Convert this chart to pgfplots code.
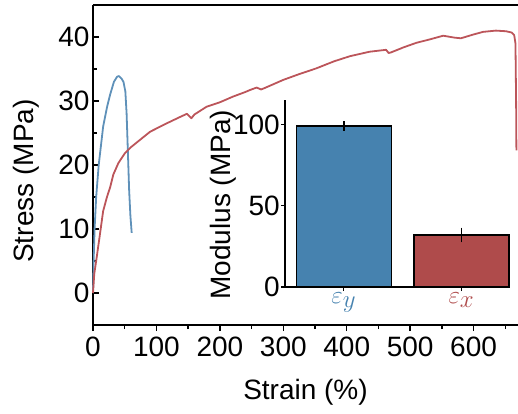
\documentclass[border=0pt]{standalone}
\usepackage{pgfplots}
\pgfplotsset{compat=1.18}
\usepackage{fontspec}
\setmainfont{Liberation Sans}
\definecolor{barblue}{RGB}{70,130,175}
\definecolor{barred}{RGB}{175,75,75}
\definecolor{lineblue}{RGB}{95,145,185}
\definecolor{linered}{RGB}{188,85,90}
\begin{document}
\begin{tikzpicture}
\path[use as bounding box] (-93pt,-88pt) rectangle (425pt,325pt);
\begin{axis}[
  scale only axis, width=425pt, height=320pt,
  at={(0pt,0pt)}, anchor=south west,
  xmin=0, xmax=670, ymin=-5, ymax=45,
  axis x line*=bottom, axis y line*=left,
  axis line style={-, line width=1.6pt, black},
  xtick={0,100,...,600}, ytick={0,10,...,40},
  minor xtick={50,150,...,650}, minor ytick={-5,5,15,25,35},
  xtick align=outside, ytick align=inside,
  major tick length=6pt, minor tick length=4pt,
  every tick/.style={black, line width=1.4pt},
  /pgf/number format/assume math mode=true,
  tick label style={font=\fontsize{28}{32}\selectfont},
  xticklabel style={yshift=-2pt},
  label style={font=\fontsize{28}{32}\selectfont, inner sep=0pt},
  xlabel={Strain (\%)}, ylabel={Stress (MPa)},
  xlabel style={at={(axis description cs:0.5,-0.17)}, anchor=north},
  ylabel style={at={(axis description cs:-0.125,0.45)}, anchor=south},
  clip=false,
]
\draw[line width=1.6pt] (rel axis cs:0,1) -- (rel axis cs:1.02,1);
\addplot[lineblue, line width=1.8pt, line join=round] coordinates {
(0,0) (1,5) (2.5,10) (5,15) (9,20) (16,26) (22,29) (27,31) (33,33) (38,33.8) (41,33.9) (45,33.5) (48,33) (51,31.5) (53,28) (55,22) (57,16) (59,12) (61,9.4)
};
\addplot[linered, line width=1.8pt, line join=round] coordinates {
(0,0) (2,3) (5,5) (10,8.5) (16,12.8) (22,15) (27,16.5) (32,18.5) (40,20.3) (50,21.8) (60,22.8) (75,24) (90,25.2) (116,26.5) (135,27.4) (148,28.0) (152,27.6) (155,27.3) (160,27.9) (179,29.1) (200,29.8) (221,30.7) (240,31.4) (247,31.7) (258,32.1) (265,31.8) (270,32.0) (300,33.3) (325,34.2) (352,35.1) (380,36.2) (405,37.0) (436,37.7) (462,38.0) (466,37.5) (470,37.6) (490,38.4) (510,39.1) (530,39.6) (552,40.2) (570,39.9) (580,39.8) (600,40.4) (615,40.8) (635,41.0) (651,40.9) (660,40.7) (664,40.3) (666,39) (667,30) (667.5,22.3)
};
\end{axis}
\begin{axis}[
  scale only axis, width=224pt, height=187pt,
  at={(192pt,38pt)}, anchor=south west,
  xmin=-0.5, xmax=1.405, ymin=0, ymax=115,
  axis x line*=bottom, axis y line*=left,
  axis line style={-, line width=1.6pt, black},
  xtick={0,1}, xticklabels={{\color{barblue}$\varepsilon_y$},{\color{barred}$\varepsilon_x$}},
  ytick={0,50,100},
  tick align=outside, major tick length=4pt,
  every tick/.style={black, line width=1.4pt},
  /pgf/number format/assume math mode=true,
  tick label style={font=\fontsize{28}{32}\selectfont},
  xticklabel style={font=\fontsize{35}{38}\selectfont, inner sep=2pt},
  yticklabel style={inner sep=1pt},
  label style={font=\fontsize{28}{32}\selectfont, inner sep=0pt},
  ylabel={Modulus (MPa)},
  ylabel style={at={(axis description cs:-0.215,0.44)}, anchor=south},
  ybar, bar width=95pt, bar shift=0pt,
  clip=false,
]
\addplot[fill=barblue, draw=black, line width=1.3pt,
  error bars/.cd, y dir=both, y explicit,
  error bar style={line width=1.6pt, black}, error mark=none]
  coordinates {(0,99) +- (0,3)};
\addplot[fill=barred, draw=black, line width=1.3pt,
  error bars/.cd, y dir=both, y explicit,
  error bar style={line width=1.6pt, black}, error mark=none]
  coordinates {(1,32) +- (0,4.5)};
\end{axis}
\end{tikzpicture}
\end{document}
